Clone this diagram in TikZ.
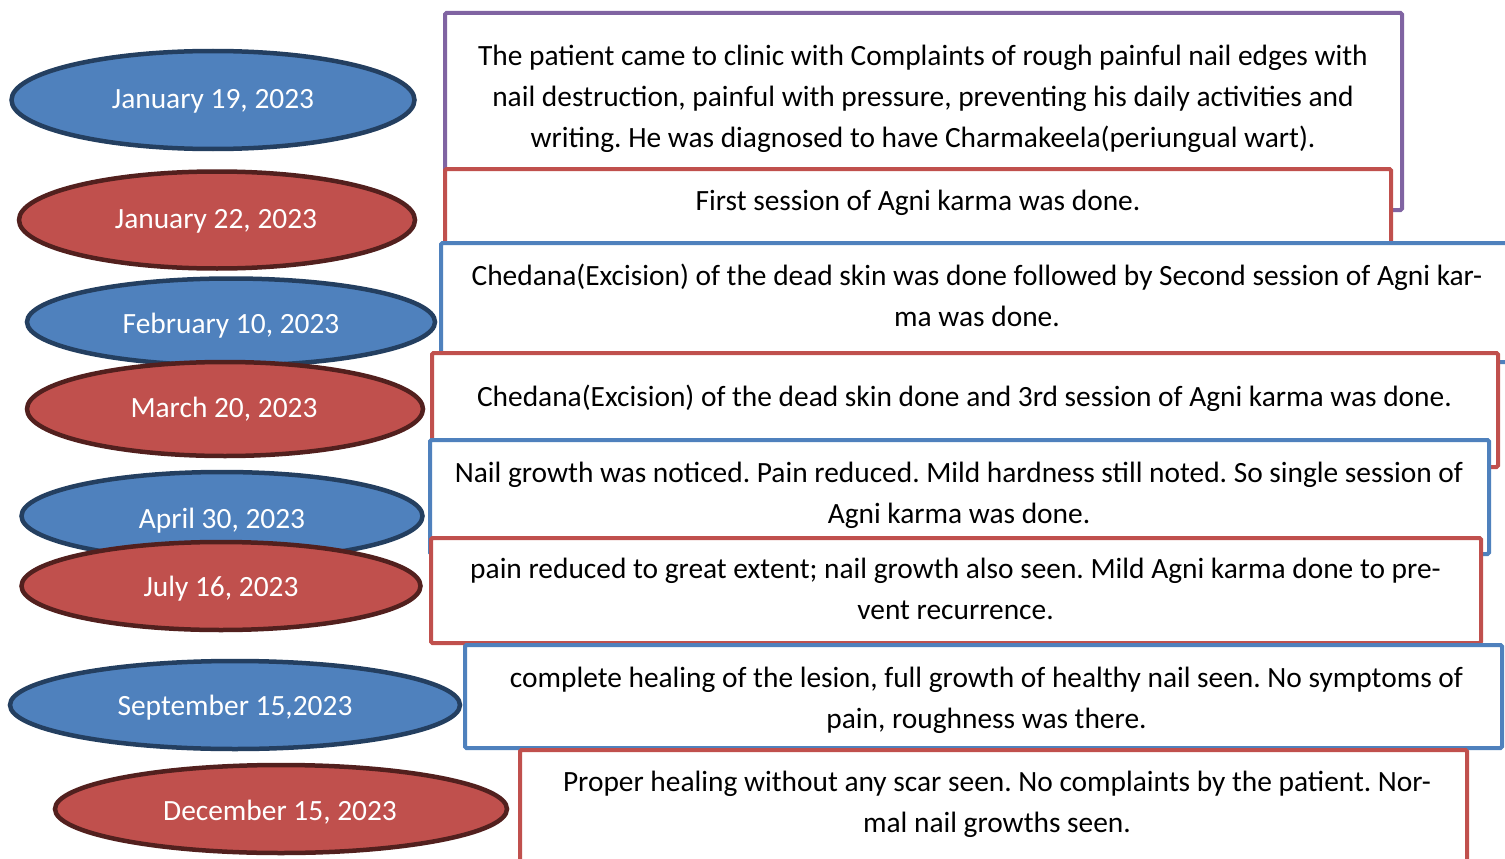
\documentclass[tikz,border=0pt]{standalone}
\usepackage{fontspec}
\setmainfont{Carlito}
\frenchspacing
\usetikzlibrary{shapes.geometric}
\definecolor{bfill}{HTML}{4F81BD}
\definecolor{bline}{HTML}{243F60}
\definecolor{rfill}{HTML}{C0504D}
\definecolor{rline}{HTML}{52201E}
\definecolor{pline}{HTML}{8064A2}
\tikzset{
  dateell/.style={ellipse, line width=4.5pt, inner sep=0pt},
  bdate/.style={dateell, fill=bfill, draw=bline},
  rdate/.style={dateell, fill=rfill, draw=rline},
  datetext/.style={text=white, inner sep=0pt, font=\fontsize{29.4}{35}\selectfont},
  evbox/.style={rectangle, fill=white, line width=4pt, rounded corners=1.5pt, inner sep=0pt},
  pbox/.style={evbox, draw=pline},
  rbox/.style={evbox, draw=rfill},
  bbox/.style={evbox, draw=bfill},
  evtext/.style={align=center, font=\fontsize{29.4}{41}\selectfont, text=black, inner sep=0pt},
}
\begin{document}
\begin{tikzpicture}[x=1pt,y=-1pt]
\useasboundingbox (0,0) rectangle (1505,859);
\clip (0,0) rectangle (1505,859);
\fill[white] (0,0) rectangle (1505,859);

% date ellipses
\node[bdate, minimum width=403pt, minimum height=98pt] (d1) at (213,100) {};
\node[datetext] (l1) at (213,101) {January 19, 2023};
\node[rdate, minimum width=396pt, minimum height=97pt] (d2) at (217,220) {};
\node[datetext] (l2) at (216,221) {January 22, 2023};
\node[bdate, minimum width=408pt, minimum height=87pt] (d3) at (231,322) {};
\node[datetext] (l3) at (231,325.5) {February 10, 2023};
\node[rdate, minimum width=396pt, minimum height=94pt] (d4) at (225,409) {};
\node[datetext] (l4) at (224,409.5) {March 20, 2023};
\node[bdate, minimum width=401pt, minimum height=88pt] (d5) at (222,516) {};
\node[datetext] (l5) at (222,520.5) {April 30, 2023};
\node[rdate, minimum width=399pt, minimum height=88pt] (d6) at (221,586) {};
\node[datetext] (l6) at (221,588.5) {July 16, 2023};
\node[bdate, minimum width=450pt, minimum height=88pt] (d7) at (235,705) {};
\node[datetext] (l7) at (235,707.5) {September 15,2023};
\node[rdate, minimum width=452pt, minimum height=88pt] (d8) at (281,809) {};
\node[datetext] (l8) at (280,812.5) {December 15, 2023};

% event boxes
\node[pbox, minimum width=957pt, minimum height=197pt] (b1) at (923.5,111.5) {};
\node[evtext] (t1) at (923,99) {The patient came to clinic with Complaints of rough painful nail edges with\\nail destruction, painful with pressure, preventing his daily activities and\\writing. He was diagnosed to have Charmakeela(periungual wart).};

\node[rbox, minimum width=946pt, minimum height=91pt] (b2) at (918,214.5) {};
\node[evtext] (t2) at (918,203) {First session of Agni karma was done.};

\node[bbox, minimum width=1071pt, minimum height=119pt] (b3) at (976.5,302.5) {};
\node[evtext] (t3) at (977,295.5) {Chedana(Excision) of the dead skin was done followed by Second session of Agni kar-\\ma was done.};

\node[rbox, minimum width=1066pt, minimum height=114pt] (b4) at (965,410) {};
\node[evtext] (t4) at (964.5,398) {Chedana(Excision) of the dead skin done and 3rd session of Agni karma was done.};

\node[bbox, minimum width=1059pt, minimum height=114pt] (b5) at (959.5,497) {};
\node[evtext] (t5) at (959,495.5) {Nail growth was noticed. Pain reduced. Mild hardness still noted. So single session of\\Agni karma was done.};

\node[rbox, minimum width=1050pt, minimum height=105pt] (b6) at (956,590.5) {};
\node[evtext] (t6) at (955.5,588.5) {pain reduced to great extent; nail growth also seen. Mild Agni karma done to pre-\\vent recurrence.};

\node[bbox, minimum width=1037pt, minimum height=103pt] (b7) at (983.5,696.5) {};
\node[evtext] (t7) at (986.5,700.5) {complete healing of the lesion, full growth of healthy nail seen. No symptoms of\\pain, roughness was there.};

\node[rbox, minimum width=947pt, minimum height=130pt] (b8) at (993.5,815) {};
\node[evtext] (t8) at (997,804.5) {Proper healing without any scar seen. No complaints by the patient. Nor-\\mal nail growths seen.};
\end{tikzpicture}
\end{document}
